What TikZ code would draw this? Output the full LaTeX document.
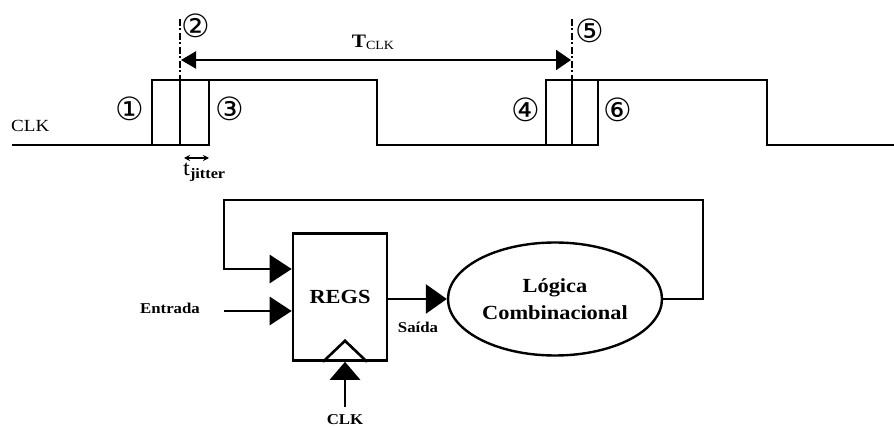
\documentclass[tikz,border=0pt]{standalone}
\usepackage{fontspec}
\setmainfont{Liberation Serif}[FakeStretch=1.12]
\newfontfamily\circfont{DejaVu Sans}
\usetikzlibrary{arrows.meta,shapes.geometric}
\begin{document}
\begin{tikzpicture}[x=1pt,y=-1pt,
  wave/.style={line width=2.9pt, line join=miter},
  wire/.style={line width=2.8pt},
  bighead/.style={-{Triangle[length=22pt,width=28pt]}},
  dashdot/.style={line width=1.5pt, dash pattern=on 7pt off 2.5pt on 2pt off 2.5pt},
  circ/.style={font=\circfont\fontsize{32}{32}\selectfont, inner sep=0pt},
  lbl/.style={font=\bfseries\fontsize{15}{15}\selectfont, inner sep=0pt},
  big/.style={font=\bfseries\fontsize{20}{27}\selectfont, align=center}]
\useasboundingbox (0,0) rectangle (894,427);
\fill[white] (0,0) rectangle (894,427);
% clock waveform
\draw[wave] (12,145) -- (152,145) -- (152,80) -- (377,80) -- (377,145) -- (546,145) -- (546,80) -- (767,80) -- (767,145) -- (896,145);
\draw[wave] (152,145) -- (209,145) -- (209,80);
\draw[wave] (180,80) -- (180,145);
\draw[wave] (546,145) -- (598,145) -- (598,80);
\draw[wave] (572,80) -- (572,145);
% dash-dot markers
\coordinate (d2t) at (180,19);
\coordinate (d2b) at (180,80);
\coordinate (d5t) at (572,19);
\coordinate (d5b) at (572,80);
\draw[dashdot] (d2t) -- (d2b);
\draw[dashdot] (d5t) -- (d5b);
% period arrow
\coordinate (a2) at (181,60);
\coordinate (a5) at (571,60);
\draw[line width=2.2pt, {Triangle[length=15pt,width=17pt]}-{Triangle[length=15pt,width=20pt]}] (a2) -- (a5);
\node[inner sep=0pt] (tclk) at (373,42) {\fontsize{19}{19}\selectfont\textbf{T}\raisebox{-2pt}{\fontsize{12.5}{12.5}\selectfont CLK}};
% circled numbers
\node[circ] (n1) at (130,109) {①};
\node[circ] (n2) at (196,26) {②};
\node[circ] (n3) at (230,109) {③};
\node[circ] (n4) at (526,110) {④};
\node[circ] (n5) at (590,31) {⑤};
\node[circ] (n6) at (618,110) {⑥};
% CLK label
\node[anchor=west, inner sep=0pt, font=\fontsize{17}{17}\selectfont] (clkw) at (11,126) {CLK};
% jitter
\coordinate (j1) at (184,158);
\coordinate (j2) at (209,158);
\draw[line width=1.4pt, {Stealth[length=6pt,width=6pt]}-{Stealth[length=6pt,width=6pt]}] (j1) -- (j2);
\node[anchor=west, inner sep=0pt] (tj) at (183,172) {\fontsize{22}{22}\selectfont t\raisebox{-3pt}{\bfseries\fontsize{14.5}{14.5}\selectfont jitter}};
% register and logic
\node[draw, line width=2.6pt, minimum width=94pt, minimum height=127pt, inner sep=0pt, big] (regs) at (340,297) {REGS};
\node[ellipse, draw, line width=2.4pt, minimum width=214pt, minimum height=113pt, inner sep=0pt, big] (logic) at (555,299) {Lógica\\Combinacional};
% clock triangle
\draw[line width=2.6pt, line join=miter] ([xshift=-17pt]regs.south) -- ([xshift=5pt,yshift=21pt]regs.south) -- ([xshift=27pt]regs.south);
% inputs
\path (regs.west) ++(0,-28) coordinate (fbIn);
\path (regs.west) ++(0,14) coordinate (entIn);
\coordinate (entS) at (224,311);
\coordinate (fbR) at (703,200);
\coordinate (fbL) at (224,200);
\node[lbl] (entrada) at (170,308) {Entrada};
\draw[wire, bighead] (entS) -- (entIn);
\draw[wire, bighead] (logic.east) -| (fbR) -- (fbL) |- (fbIn);
\draw[wire, -{Triangle[length=21pt,width=29pt]}] (regs.east |- logic.west) -- (logic.west);
\node[lbl] (saida) at (418,327) {Saída};
% clock input
\coordinate (clkS) at (345,407);
\path (regs.south) ++(5,0) coordinate (clkIn);
\draw[wire, -{Triangle[length=18pt,width=30pt]}] (clkS) -- (clkIn);
\node[lbl] (clkb) at (345,420) {CLK};
\end{tikzpicture}
\end{document}
